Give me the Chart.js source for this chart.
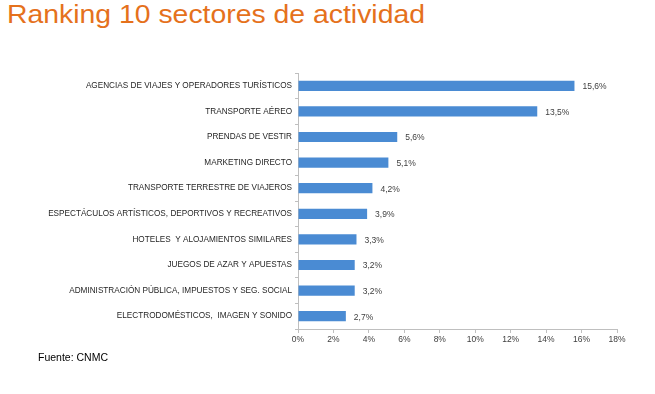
<!DOCTYPE html>
<html>
<head>
<meta charset="utf-8">
<script src="https://cdn.jsdelivr.net/npm/chart.js@4"></script>
<style>
  html, body { margin:0; padding:0; background:#fff; }
  #wrap { position:relative; width:655px; height:394px; overflow:hidden; }
  #title { position:absolute; left:7px; top:0px; font-family:"Liberation Sans", Arial, sans-serif; font-size:25px; color:#E5711C; white-space:nowrap; transform:scaleX(1.135); transform-origin:0 0; }
  #src { position:absolute; left:38px; top:351px; font-family:"Liberation Sans", Arial, sans-serif; font-size:10.5px; color:#000; }
  canvas { position:absolute; left:0; top:0; }
</style>
</head>
<body>
<div id="wrap">
  <div id="title">Ranking 10 sectores de actividad</div>
  <canvas id="c" width="655" height="394"></canvas>
  <div id="src">Fuente: CNMC</div>
</div>
<script>
const categories = [
  "AGENCIAS DE VIAJES Y OPERADORES TURÍSTICOS",
  "TRANSPORTE AÉREO",
  "PRENDAS DE VESTIR",
  "MARKETING DIRECTO",
  "TRANSPORTE TERRESTRE DE VIAJEROS",
  "ESPECTÁCULOS ARTÍSTICOS, DEPORTIVOS Y RECREATIVOS",
  "HOTELES  Y ALOJAMIENTOS SIMILARES",
  "JUEGOS DE AZAR Y APUESTAS",
  "ADMINISTRACIÓN PÚBLICA, IMPUESTOS Y SEG. SOCIAL",
  "ELECTRODOMÉSTICOS,  IMAGEN Y SONIDO"
];
const shares = [15.6, 13.5, 5.6, 5.1, 4.2, 3.9, 3.3, 3.2, 3.2, 2.7];
const xTicks = [0, 2, 4, 6, 8, 10, 12, 14, 16, 18];

const fmt = v => v.toFixed(1).replace('.', ',') + '%';

const valueLabels = {
  id: 'valueLabels',
  afterDatasetsDraw(chart) {
    const ctx = chart.ctx;
    const meta = chart.getDatasetMeta(0);
    ctx.save();
    ctx.font = '8.5px "Liberation Sans", Arial, sans-serif';
    ctx.fillStyle = '#404040';
    ctx.textBaseline = 'middle';
    ctx.textAlign = 'left';
    meta.data.forEach((bar, i) => {
      ctx.fillText(fmt(shares[i]), bar.x + 8, bar.y + 1);
    });
    ctx.restore();
  }
};

new Chart(document.getElementById('c'), {
  type: 'bar',
  data: {
    labels: categories,
    datasets: [{
      data: shares,
      backgroundColor: '#4A8BD3',
      borderWidth: 0,
      barPercentage: 0.8,
      categoryPercentage: 0.5
    }]
  },
  options: {
    indexAxis: 'y',
    responsive: false,
    animation: false,
    layout: { padding: { left: 0, right: 38, top: 73, bottom: 45 } },
    plugins: { legend: { display: false }, tooltip: { enabled: false }, title: { display: false } },
    scales: {
      x: {
        min: 0, max: 18,
        afterBuildTicks(scale) { scale.ticks = xTicks.map(v => ({ value: v })); },
        afterFit(scale) { scale.height = 20; },
        grid: { drawOnChartArea: false, drawTicks: true, tickLength: 4, color: '#BFBFBF' },
        border: { color: '#BFBFBF' },
        ticks: {
          padding: 2,
          color: '#404040',
          font: { family: '"Liberation Sans", Arial, sans-serif', size: 8.5 },
          callback: v => v + '%',
          maxRotation: 0
        }
      },
      y: {
        afterFit(scale) { scale.width = 298; },
        grid: { drawOnChartArea: false, drawTicks: true, tickLength: 3, color: '#BFBFBF', offset: true },
        border: { color: '#BFBFBF' },
        ticks: {
          padding: 3,
          color: '#262626',
          font: { family: '"Liberation Sans", Arial, sans-serif', size: 8.2 },
          autoSkip: false
        }
      }
    }
  },
  plugins: [valueLabels]
});
</script>
</body>
</html>
